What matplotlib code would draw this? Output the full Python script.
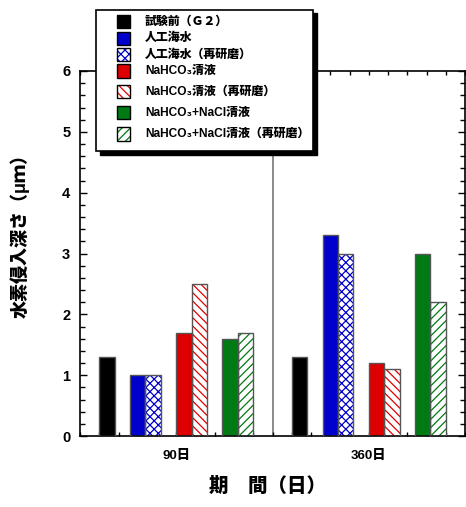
import matplotlib
matplotlib.use("Agg")
import matplotlib.pyplot as plt
import numpy as np
from matplotlib.patches import Rectangle
from matplotlib.ticker import MultipleLocator, FixedLocator

plt.rcParams["font.family"] = ["Liberation Sans", "Noto Sans CJK JP", "DejaVu Sans"]
plt.rcParams["font.weight"] = "bold"
plt.rcParams["hatch.linewidth"] = 0.9

# periods on the x axis
periods = ["90日", "360日"]

# series labels, in legend order
series = [
    "試験前（Ｇ２）",
    "人工海水",
    "人工海水（再研磨）",
    "NaHCO₃清液",
    "NaHCO₃清液（再研磨）",
    "NaHCO₃+NaCl清液",
    "NaHCO₃+NaCl清液（再研磨）",
]

# hydrogen penetration depth [um], one list per series, one value per period
depth_g2 = [1.3, 1.3]
depth_seawater = [1.0, 3.3]
depth_seawater_re = [1.0, 3.0]
depth_nahco3 = [1.7, 1.2]
depth_nahco3_re = [2.5, 1.1]
depth_nacl = [1.6, 3.0]
depth_nacl_re = [1.7, 2.2]

values = [depth_g2, depth_seawater, depth_seawater_re, depth_nahco3,
          depth_nahco3_re, depth_nacl, depth_nacl_re]

BLACK = "#000000"
BLUE = "#0000cc"
RED = "#dd0000"
GREEN = "#007a12"

styles = [
    dict(color=BLACK, hatch=None),
    dict(color=BLUE, hatch=None),
    dict(color=BLUE, hatch="xxxx"),
    dict(color=RED, hatch=None),
    dict(color=RED, hatch="\\\\\\\\"),
    dict(color=GREEN, hatch=None),
    dict(color=GREEN, hatch="////"),
]

# slot index inside each group (empty slots between the pairs)
slots = [0, 2, 3, 5, 6, 8, 9]
slot_w = 0.08
group_centers = np.array([0.5, 1.5])

W, H = 466, 507
fig = plt.figure(figsize=(W / 100, H / 100), dpi=100)
ax = fig.add_axes([80 / W, 71 / H, 385 / W, 365 / H])


def px(x, y):
    """Figure fraction from pixel position measured from the top-left corner."""
    return x / W, 1 - y / H


for vals, st, slot in zip(values, styles, slots):
    x = group_centers - 0.36 + slot * slot_w
    if st["hatch"]:
        ax.bar(x, vals, width=slot_w, color="white", edgecolor=st["color"],
               hatch=st["hatch"], linewidth=0, zorder=2)
    else:
        ax.bar(x, vals, width=slot_w, color=st["color"], linewidth=0, zorder=2)
    ax.bar(x, vals, width=slot_w, fill=False, edgecolor="#555555", linewidth=1.0, zorder=3)

# separator between the two periods
ax.axvline(1.0, color="#777777", linewidth=1.2, zorder=1)

ax.set_xlim(0, 2)
ax.set_ylim(0, 6)
ax.xaxis.set_major_locator(FixedLocator(group_centers))
ax.set_xticklabels(periods, fontsize=9.5, fontweight="heavy")
ax.xaxis.set_minor_locator(MultipleLocator(0.1))
ax.yaxis.set_major_locator(MultipleLocator(1))
ax.yaxis.set_minor_locator(MultipleLocator(0.2))
ax.tick_params(axis="both", which="both", direction="in", top=True, right=True, width=1.0)
ax.tick_params(axis="y", which="major", length=5, labelsize=10.5, pad=7)
ax.tick_params(axis="y", which="minor", length=3.5)
ax.tick_params(axis="x", which="both", length=2.8, pad=10)
for lab in ax.get_yticklabels():
    lab.set_fontweight("bold")
for spine in ax.spines.values():
    spine.set_linewidth(1.2)

ax.set_ylabel("水素侵入深さ（μｍ）", fontsize=13, fontweight="heavy")
ax.yaxis.set_label_coords(-0.13, 0.559)
ax.set_xlabel("期　間（日）", fontsize=14, fontweight="heavy")
ax.xaxis.set_label_coords(0.488, -0.112)

# legend box with a solid drop shadow, drawn on the figure
box_l, box_t, box_r, box_b = 96, 9.5, 313, 151
x0, y0 = px(box_l, box_b)
bw, bh = (box_r - box_l) / W, (box_b - box_t) / H
fig.patches.append(Rectangle((x0 + 3.5 / W, y0 - 3.5 / H), bw, bh, transform=fig.transFigure,
                             facecolor="black", edgecolor="black", zorder=10))
fig.patches.append(Rectangle((x0, y0), bw, bh, transform=fig.transFigure,
                             facecolor="white", edgecolor="black", linewidth=1.2, zorder=11))

row_y = [21.7, 38.3, 54.5, 71.0, 91.7, 112.7, 134.0]
sq = 13
for label, st, ry in zip(series, styles, row_y):
    sx, sy = px(117, ry + sq / 2)
    if st["hatch"]:
        fig.patches.append(Rectangle((sx, sy), sq / W, sq / H, transform=fig.transFigure,
                                     facecolor="white", edgecolor=st["color"],
                                     hatch=st["hatch"], linewidth=0, zorder=12))
    else:
        fig.patches.append(Rectangle((sx, sy), sq / W, sq / H, transform=fig.transFigure,
                                     facecolor=st["color"], linewidth=0, zorder=12))
    fig.patches.append(Rectangle((sx, sy), sq / W, sq / H, transform=fig.transFigure,
                                 fill=False, edgecolor="black", linewidth=1.0, zorder=13))
    tx, ty = px(145, ry)
    fig.text(tx, ty, label, fontsize=8.6, fontweight="heavy", ha="left", va="center",
             zorder=14)

fig.savefig("out.png", dpi=100)
